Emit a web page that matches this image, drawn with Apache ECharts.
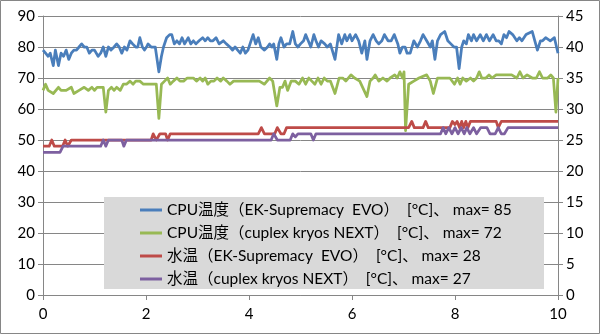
<!DOCTYPE html>
<html><head><meta charset="utf-8">
<script src="https://cdn.jsdelivr.net/npm/echarts@6/dist/echarts.min.js"></script>
<style>html,body{margin:0;padding:0;background:#fff}#c{width:600px;height:334px}</style>
</head><body><div id="c"></div>
<script>
var seriesNames = [
  'CPU温度（EK-Supremacy  EVO）  [°C]、 max= 85',
  'CPU温度（cuplex kryos NEXT）  [°C]、 max= 72',
  '水温（EK-Supremacy  EVO）  [°C]、 max= 28',
  '水温（cuplex kryos NEXT）  [°C]、 max= 27'
];
var xTicks = [0, 2, 4, 6, 8, 10];
var cpuEk = [[0,79],[0.05,78],[0.1,77],[0.14,78],[0.2,74],[0.24,79],[0.3,74],[0.35,78],[0.4,77],[0.45,79],[0.5,76],[0.55,78],[0.6,79],[0.65,79],[0.7,80],[0.75,81],[0.8,80],[0.85,80],[0.9,78],[0.95,79],[1.0,79],[1.07,77],[1.12,78],[1.17,80],[1.22,77],[1.27,80],[1.32,79],[1.38,80],[1.43,81],[1.48,80],[1.53,78],[1.58,80],[1.63,79],[1.69,82],[1.74,81],[1.8,80],[1.84,80],[1.88,83],[1.93,80],[1.97,79],[2.01,80],[2.04,81],[2.1,80],[2.18,80],[2.25,72],[2.3,77],[2.34,80],[2.4,83],[2.46,84],[2.5,84],[2.55,81],[2.6,82],[2.65,81],[2.7,83],[2.75,81],[2.82,83],[2.87,81],[2.92,82],[2.97,81],[3.03,82],[3.1,83],[3.15,82],[3.2,83],[3.25,82],[3.3,82],[3.36,83],[3.42,81],[3.5,82],[3.56,81],[3.63,80],[3.68,79],[3.73,80],[3.78,79],[3.83,78],[3.88,80],[3.93,78],[3.98,79],[4.02,81],[4.08,84],[4.13,81],[4.18,83],[4.23,80],[4.3,79],[4.36,80],[4.4,81],[4.45,80],[4.48,81],[4.54,76],[4.58,81],[4.62,83],[4.68,80],[4.73,81],[4.79,81],[4.85,85],[4.9,81],[4.95,80],[5.0,81],[5.06,82],[5.1,84],[5.15,82],[5.2,80],[5.26,84],[5.3,82],[5.35,80],[5.4,82],[5.47,81],[5.52,80],[5.58,81],[5.67,76],[5.74,84],[5.8,81],[5.86,84],[5.9,82],[5.96,84],[6.0,82],[6.07,84],[6.13,82],[6.19,78],[6.25,82],[6.29,76],[6.35,82],[6.41,84],[6.47,82],[6.52,81],[6.58,82],[6.63,84],[6.7,82],[6.76,82],[6.82,84],[6.89,81],[6.93,78],[6.98,80],[7.03,80],[7.07,78],[7.13,78],[7.2,82],[7.27,80],[7.33,82],[7.38,84],[7.45,82],[7.52,80],[7.56,82],[7.61,76],[7.66,82],[7.72,84],[7.8,85],[7.86,82],[7.92,81],[7.98,80],[8.03,80],[8.08,73],[8.13,80],[8.17,82],[8.22,81],[8.26,84],[8.32,82],[8.36,84],[8.42,82],[8.49,84],[8.55,82],[8.61,84],[8.67,82],[8.74,84],[8.8,82],[8.85,82],[8.9,81],[8.95,84],[9.0,83],[9.05,85],[9.12,84],[9.2,82],[9.25,83],[9.3,82],[9.38,84],[9.5,85],[9.55,82],[9.6,79],[9.66,82],[9.7,82],[9.76,83],[9.85,82],[9.93,83],[10.0,78]];
var cpuCuplex = [[0,66],[0.05,68],[0.1,66],[0.2,65],[0.3,67],[0.35,66],[0.45,66],[0.55,67],[0.6,65],[0.7,66],[0.8,67],[0.88,66],[0.95,67],[1.0,66],[1.05,67],[1.12,67],[1.17,67],[1.22,59],[1.27,66],[1.33,67],[1.38,66],[1.43,67],[1.5,66],[1.56,68],[1.62,68],[1.69,69],[1.75,68],[1.8,69],[1.88,69],[1.95,68],[2.05,68],[2.2,68],[2.25,57],[2.3,68],[2.36,69],[2.42,70],[2.47,68],[2.53,69],[2.6,70],[2.66,69],[2.73,69],[2.8,70],[2.87,70],[2.92,70],[2.98,69],[3.05,70],[3.1,69],[3.15,70],[3.2,68],[3.26,69],[3.32,69],[3.38,70],[3.45,69],[3.5,70],[3.57,69],[3.63,68],[3.7,69],[3.8,69],[3.9,69],[4.0,69],[4.1,69],[4.2,69],[4.3,68],[4.4,70],[4.46,69],[4.54,61],[4.6,67],[4.65,67],[4.7,69],[4.75,66],[4.82,69],[4.9,69],[4.97,68],[5.04,70],[5.1,68],[5.16,70],[5.22,69],[5.28,68],[5.34,70],[5.4,68],[5.46,70],[5.52,69],[5.58,69],[5.67,65],[5.75,70],[5.82,70],[5.88,69],[5.98,71],[6.05,70],[6.15,69],[6.29,64],[6.35,69],[6.41,70],[6.45,71],[6.52,69],[6.6,70],[6.68,69],[6.74,70],[6.83,71],[6.88,70],[6.93,72],[6.98,70],[7.01,72],[7.04,53],[7.1,68],[7.2,69],[7.3,70],[7.45,71],[7.52,69],[7.58,65],[7.66,70],[7.76,70],[7.86,70],[7.9,70],[7.99,68],[8.05,70],[8.1,68],[8.15,70],[8.22,69],[8.3,70],[8.36,69],[8.42,70],[8.47,72],[8.52,70],[8.6,70],[8.66,71],[8.72,70],[8.8,71],[8.9,71],[9.0,71],[9.1,71],[9.2,70],[9.26,72],[9.32,70],[9.4,71],[9.5,70],[9.58,70],[9.64,72],[9.7,70],[9.8,70],[9.86,71],[9.91,70],[9.96,59],[10.0,70]];
var waterEk = [[0,24],[0.12,24],[0.17,25],[0.22,24],[0.38,24],[0.43,25],[0.48,24],[0.55,25],[2.1,25],[2.14,26],[2.2,25],[2.27,26],[2.38,26],[2.42,25],[2.47,26],[4.18,26],[4.24,27],[4.3,26],[4.5,26],[4.55,27],[4.62,26],[4.68,26],[4.73,27],[7.1,27],[7.16,28],[7.21,27],[7.38,27],[7.43,28],[7.48,27],[7.9,27],[7.95,28],[8.0,27.5],[8.04,28],[8.09,27],[8.13,28],[8.17,27],[8.21,28],[8.25,27],[8.3,28],[8.8,28],[8.84,27],[8.9,28],[10,28]];
var waterCuplex = [[0,23],[0.33,23],[0.39,24],[1.12,24],[1.17,25],[1.22,24],[1.27,25],[1.53,25],[1.57,24],[1.62,25],[4.43,25],[4.48,26],[4.55,25],[4.8,25],[4.85,26],[4.9,25.5],[4.95,26],[5.2,26],[5.25,25],[5.3,26],[7.72,26],[7.77,27],[7.82,26],[7.88,27],[7.94,26],[8.0,27],[8.06,26],[8.12,27],[8.18,26],[8.23,27],[8.29,26],[8.36,27],[8.42,26],[8.5,27],[8.62,27],[8.68,26],[8.78,26],[8.84,27],[8.9,26],[8.96,26],[9.03,27],[10,27]];

var colors = ['#4a7ebb', '#98b954', '#be4b48', '#7d60a0'];
var font = 'Lato, "Noto Sans CJK JP", sans-serif';
var chart = echarts.init(document.getElementById('c'), null, {renderer: 'canvas'});
function mk(name, data, axis, color) {
  return {name: name, type: 'line', yAxisIndex: axis, data: data, showSymbol: false, symbol: 'none',
    lineStyle: {color: color, width: 2.75, join: 'round'}, itemStyle: {color: color}, z: 2};
}
chart.setOption({
  animation: false,
  backgroundColor: '#fff',
  color: colors,
  grid: {left: 43, right: 42, top: 16, bottom: 39},
  xAxis: {type: 'value', min: xTicks[0], max: xTicks[xTicks.length - 1], interval: 2,
    axisLine: {show: true, lineStyle: {color: '#868686', width: 1}},
    axisTick: {show: true, length: 5, lineStyle: {color: '#868686'}},
    splitLine: {show: false},
    axisLabel: {color: '#000', fontSize: 15, fontFamily: font, margin: 12}},
  yAxis: [
    {type: 'value', min: 0, max: 90, interval: 10, position: 'left',
      axisLine: {show: true, lineStyle: {color: '#868686'}},
      axisTick: {show: true, length: 5, lineStyle: {color: '#868686'}},
      splitLine: {show: true, lineStyle: {color: '#868686', width: 1}},
      axisLabel: {color: '#000', fontSize: 15, fontFamily: font, margin: 8}},
    {type: 'value', min: 0, max: 45, interval: 5, position: 'right',
      axisLine: {show: true, lineStyle: {color: '#868686'}},
      axisTick: {show: true, length: 5, lineStyle: {color: '#868686'}},
      splitLine: {show: false},
      axisLabel: {color: '#000', fontSize: 15, fontFamily: font, margin: 8}}
  ],
  graphic: [
    {type: 'rect', z: 10, shape: {x: 104, y: 197, width: 440, height: 92}, style: {fill: '#d9d9d9'}},
    {type: 'rect', z: 10, shape: {x: 0.5, y: 0.5, width: 599, height: 333}, style: {fill: 'none', stroke: '#868686', lineWidth: 1}}
  ],
  legend: {orient: 'vertical', left: 140, top: 200, padding: 0, itemGap: 3, itemWidth: 22, itemHeight: 3,
    icon: 'rect', z: 20,
    textStyle: {color: '#000', fontSize: 15.5, fontFamily: font, lineHeight: 20},
    data: seriesNames},
  series: [
    mk(seriesNames[0], cpuEk, 0, colors[0]),
    mk(seriesNames[1], cpuCuplex, 0, colors[1]),
    mk(seriesNames[2], waterEk, 1, colors[2]),
    mk(seriesNames[3], waterCuplex, 1, colors[3])
  ]
});
</script></body></html>
